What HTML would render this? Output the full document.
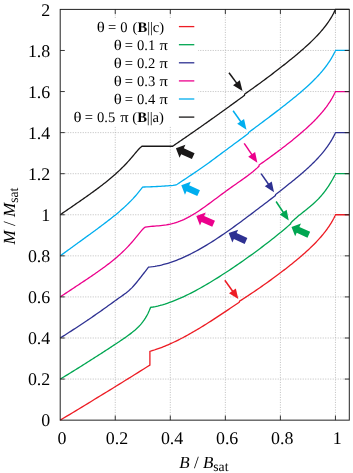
<!DOCTYPE html>
<html><head><meta charset="utf-8"><style>html,body{margin:0;padding:0;background:#fff;}svg{display:block;will-change:transform;}text{text-rendering:geometricPrecision;}</style></head><body>
<svg width="353" height="473" viewBox="0 0 353 473">
<rect width="353" height="473" fill="#fff"/>
<path d="M115.25,9.40V420.15 M170.30,9.40V420.15 M225.35,9.40V420.15 M280.40,9.40V420.15 M335.45,9.40V420.15 M60.20,379.07H349.30 M60.20,338.00H349.30 M60.20,296.92H349.30 M60.20,255.85H349.30 M60.20,214.77H349.30 M60.20,173.70H349.30 M60.20,132.62H349.30 M60.20,91.55H349.30 M60.20,50.47H349.30" stroke="#b0b0b0" stroke-width="0.75" stroke-dasharray="1.1,1.4" fill="none"/>
<rect x="61" y="18" width="137" height="108.4" fill="#fff"/>
<path d="M60.20,420.15 L63.29,418.29 L66.39,416.43 L69.48,414.57 L72.57,412.70 L75.67,410.83 L78.76,408.96 L81.85,407.09 L84.94,405.21 L88.04,403.33 L91.13,401.45 L94.22,399.56 L97.32,397.67 L100.41,395.78 L103.50,393.88 L106.60,391.98 L109.69,390.08 L112.78,388.18 L115.88,386.27 L118.97,384.36 L122.06,382.45 L125.16,380.53 L128.25,378.61 L131.34,376.69 L134.43,374.77 L137.53,372.84 L140.62,370.91 L143.71,368.98 L146.81,367.04 L149.90,365.10 L149.90,351.40 L151.42,350.95 L152.93,350.49 L154.45,350.00 L155.96,349.49 L157.48,348.97 L158.99,348.42 L160.51,347.86 L162.03,347.28 L163.54,346.68 L165.06,346.06 L166.57,345.43 L168.09,344.78 L169.60,344.12 L171.12,343.43 L172.64,342.74 L174.15,342.03 L175.67,341.30 L177.18,340.56 L178.70,339.80 L180.22,339.03 L181.73,338.25 L183.25,337.46 L184.76,336.65 L186.28,335.83 L187.79,334.99 L189.31,334.15 L190.83,333.30 L192.34,332.43 L193.86,331.55 L195.37,330.67 L196.89,329.77 L198.40,328.87 L199.92,327.95 L201.44,327.03 L202.95,326.10 L204.47,325.16 L205.98,324.21 L207.50,323.26 L209.01,322.30 L210.53,321.33 L212.05,320.36 L213.56,319.38 L215.08,318.39 L216.59,317.40 L218.11,316.41 L219.63,315.41 L221.14,314.41 L222.66,313.40 L224.17,312.39 L225.69,311.38 L227.20,310.36 L228.72,309.35 L230.24,308.33 L231.75,307.31 L233.27,306.29 L234.78,305.27 L236.30,304.24 L237.81,303.22 L239.33,302.20 L239.50,301.20 L241.64,299.84 L243.76,298.48 L245.86,297.12 L247.93,295.77 L249.98,294.41 L252.00,293.06 L254.00,291.71 L255.97,290.37 L257.92,289.03 L259.85,287.70 L261.75,286.37 L263.63,285.05 L265.48,283.74 L267.31,282.44 L269.12,281.14 L270.90,279.85 L272.65,278.57 L274.39,277.30 L276.09,276.04 L277.78,274.79 L279.44,273.54 L281.07,272.31 L282.68,271.08 L284.27,269.86 L285.83,268.66 L287.37,267.46 L288.89,266.27 L290.38,265.09 L291.84,263.92 L293.28,262.76 L294.70,261.60 L296.09,260.46 L297.46,259.32 L298.81,258.19 L300.13,257.07 L301.42,255.96 L302.70,254.86 L303.94,253.76 L305.17,252.67 L306.37,251.59 L307.54,250.51 L308.69,249.45 L309.82,248.39 L310.92,247.34 L312.00,246.29 L313.05,245.25 L314.08,244.22 L315.09,243.20 L316.07,242.18 L317.03,241.17 L317.96,240.17 L318.87,239.18 L319.75,238.19 L320.61,237.22 L321.45,236.25 L322.26,235.29 L323.05,234.34 L323.81,233.40 L324.55,232.47 L325.26,231.55 L325.95,230.64 L326.62,229.75 L327.26,228.86 L327.88,227.99 L328.47,227.14 L329.04,226.30 L329.59,225.48 L330.11,224.68 L330.60,223.89 L331.08,223.13 L331.53,222.38 L331.95,221.66 L332.35,220.97 L332.72,220.30 L333.08,219.66 L333.40,219.04 L333.71,218.46 L333.98,217.92 L334.24,217.40 L334.47,216.93 L334.67,216.50 L334.86,216.10 L335.01,215.76 L335.15,215.46 L335.26,215.21 L335.34,215.01 L335.40,214.87 L335.44,214.79 L335.45,214.77 L349.30,214.77" stroke="#ed1c24" stroke-width="1.3" fill="none" stroke-linejoin="miter" stroke-linecap="butt"/>
<path d="M60.20,379.07 L61.51,378.30 L62.82,377.51 L64.13,376.72 L65.44,375.93 L66.75,375.13 L68.06,374.33 L69.37,373.53 L70.68,372.72 L71.99,371.92 L73.30,371.11 L74.61,370.30 L75.92,369.48 L77.23,368.67 L78.54,367.85 L79.85,367.03 L81.16,366.21 L82.47,365.38 L83.78,364.56 L85.09,363.73 L86.40,362.90 L87.71,362.07 L89.02,361.24 L90.33,360.41 L91.64,359.57 L92.95,358.74 L94.26,357.90 L95.57,357.06 L96.88,356.22 L98.19,355.38 L99.50,354.53 L100.81,353.69 L102.12,352.84 L103.43,351.99 L104.74,351.14 L106.06,350.29 L107.37,349.44 L108.68,348.59 L109.99,347.73 L111.30,346.87 L112.61,346.01 L113.92,345.15 L115.23,344.29 L116.54,343.42 L117.85,342.55 L119.16,341.68 L120.47,340.80 L121.78,339.91 L123.09,339.02 L124.40,338.11 L125.71,337.20 L127.02,336.27 L128.33,335.33 L129.64,334.36 L130.95,333.37 L132.26,332.36 L133.57,331.30 L134.88,330.20 L136.19,329.04 L137.50,327.82 L138.81,326.52 L140.12,325.13 L141.43,323.62 L142.74,321.97 L144.05,320.16 L145.36,318.16 L146.67,315.93 L147.98,313.43 L149.29,310.60 L150.60,307.40 L152.97,307.01 L155.35,306.54 L157.72,306.01 L160.10,305.42 L162.47,304.77 L164.85,304.06 L167.22,303.29 L169.60,302.47 L171.97,301.60 L174.35,300.68 L176.72,299.72 L179.09,298.71 L181.47,297.66 L183.84,296.57 L186.22,295.44 L188.59,294.28 L190.97,293.08 L193.34,291.85 L195.72,290.59 L198.09,289.30 L200.47,287.98 L202.84,286.63 L205.22,285.27 L207.59,283.87 L209.96,282.46 L212.34,281.02 L214.71,279.56 L217.09,278.08 L219.46,276.58 L221.84,275.07 L224.21,273.54 L226.59,271.99 L228.96,270.42 L231.34,268.84 L233.71,267.24 L236.08,265.63 L238.46,264.00 L240.83,262.36 L243.21,260.70 L245.58,259.03 L247.96,257.34 L250.33,255.64 L252.71,253.92 L255.08,252.18 L257.46,250.43 L259.83,248.67 L262.21,246.88 L264.58,245.08 L266.95,243.26 L269.33,241.42 L271.70,239.56 L274.08,237.67 L276.45,235.77 L278.83,233.84 L281.20,231.89 L283.58,229.91 L285.95,227.90 L288.33,225.87 L290.70,223.80 L290.90,222.70 L291.90,221.73 L292.88,220.80 L293.85,219.91 L294.81,219.04 L295.77,218.21 L296.70,217.40 L297.63,216.61 L298.55,215.85 L299.45,215.11 L300.35,214.38 L301.23,213.67 L302.10,212.97 L302.96,212.29 L303.81,211.62 L304.65,210.95 L305.48,210.30 L306.29,209.65 L307.10,209.00 L307.89,208.36 L308.67,207.73 L309.44,207.09 L310.20,206.46 L310.95,205.83 L311.69,205.20 L312.41,204.57 L313.13,203.94 L313.83,203.31 L314.52,202.67 L315.20,202.04 L315.87,201.40 L316.53,200.76 L317.18,200.12 L317.81,199.48 L318.44,198.84 L319.05,198.19 L319.65,197.54 L320.24,196.89 L320.82,196.24 L321.39,195.59 L321.95,194.94 L322.49,194.28 L323.03,193.63 L323.55,192.98 L324.06,192.33 L324.56,191.68 L325.05,191.03 L325.53,190.39 L326.00,189.75 L326.45,189.11 L326.90,188.48 L327.33,187.86 L327.75,187.24 L328.16,186.62 L328.56,186.02 L328.95,185.42 L329.33,184.83 L329.69,184.25 L330.05,183.68 L330.39,183.12 L330.72,182.57 L331.04,182.03 L331.35,181.51 L331.65,181.00 L331.93,180.50 L332.21,180.02 L332.47,179.55 L332.73,179.10 L332.97,178.66 L333.20,178.24 L333.42,177.84 L333.63,177.45 L333.82,177.09 L334.01,176.74 L334.18,176.41 L334.35,176.10 L334.50,175.80 L334.64,175.53 L334.77,175.27 L334.89,175.04 L334.99,174.82 L335.09,174.62 L335.17,174.44 L335.25,174.29 L335.31,174.14 L335.36,174.02 L335.40,173.92 L335.43,173.83 L335.44,173.76 L335.45,173.70 L349.30,173.70" stroke="#00a651" stroke-width="1.3" fill="none" stroke-linejoin="miter" stroke-linecap="butt"/>
<path d="M60.20,338.00 L61.70,337.06 L63.19,336.12 L64.69,335.18 L66.19,334.23 L67.68,333.28 L69.18,332.32 L70.68,331.36 L72.17,330.39 L73.67,329.42 L75.17,328.44 L76.66,327.46 L78.16,326.48 L79.66,325.49 L81.15,324.50 L82.65,323.50 L84.15,322.50 L85.64,321.49 L87.14,320.48 L88.00,319.90 L88.64,319.47 L90.13,318.45 L91.63,317.43 L93.13,316.40 L94.62,315.36 L96.12,314.32 L97.62,313.28 L99.11,312.23 L100.61,311.17 L102.11,310.12 L103.60,309.05 L105.10,307.99 L106.59,306.92 L108.09,305.84 L109.59,304.77 L111.08,303.69 L112.58,302.60 L114.08,301.51 L115.40,300.55 L115.57,300.42 L117.07,299.35 L118.57,298.30 L120.06,297.25 L121.56,296.21 L123.06,295.14 L124.55,294.05 L126.05,292.91 L127.55,291.71 L129.04,290.45 L130.00,289.60 L130.54,289.10 L132.04,287.59 L133.53,285.95 L135.03,284.24 L135.50,283.70 L136.53,282.49 L138.02,280.66 L139.52,278.77 L141.02,276.86 L141.30,276.50 L142.51,274.94 L144.01,272.99 L144.70,272.10 L145.51,271.06 L147.00,269.13 L148.50,267.20 L150.65,266.97 L152.80,266.69 L154.95,266.35 L157.10,265.96 L159.25,265.52 L161.41,265.03 L163.56,264.49 L165.71,263.90 L167.86,263.26 L170.01,262.58 L172.16,261.86 L174.31,261.09 L176.46,260.28 L178.61,259.42 L180.76,258.53 L182.91,257.60 L185.06,256.63 L187.22,255.62 L189.37,254.58 L191.52,253.50 L193.67,252.40 L195.82,251.25 L197.97,250.08 L200.12,248.88 L202.27,247.64 L204.42,246.38 L206.57,245.10 L208.72,243.78 L210.87,242.44 L213.03,241.08 L215.18,239.69 L217.33,238.29 L219.48,236.86 L221.63,235.41 L223.78,233.94 L225.93,232.46 L228.08,230.96 L230.23,229.44 L232.38,227.91 L234.53,226.36 L236.68,224.80 L238.84,223.23 L240.99,221.65 L243.14,220.06 L245.29,218.46 L247.44,216.85 L249.59,215.23 L251.74,213.61 L253.89,211.98 L256.04,210.35 L258.19,208.71 L260.34,207.07 L262.49,205.43 L264.65,203.79 L266.80,202.15 L268.95,200.51 L271.10,198.87 L273.25,197.23 L275.40,195.60 L275.60,194.50 L276.94,193.46 L278.26,192.43 L279.57,191.41 L280.86,190.40 L282.14,189.41 L283.40,188.42 L284.64,187.44 L285.88,186.47 L287.09,185.51 L288.29,184.55 L289.48,183.61 L290.65,182.67 L291.81,181.74 L292.95,180.82 L294.07,179.90 L295.18,178.99 L296.28,178.09 L297.36,177.20 L298.43,176.31 L299.48,175.42 L300.51,174.54 L301.53,173.67 L302.54,172.80 L303.53,171.94 L304.50,171.08 L305.46,170.23 L306.41,169.38 L307.33,168.54 L308.25,167.70 L309.15,166.86 L310.03,166.03 L310.90,165.21 L311.75,164.38 L312.59,163.56 L313.42,162.75 L314.23,161.94 L315.02,161.13 L315.80,160.33 L316.56,159.53 L317.31,158.74 L318.04,157.95 L318.76,157.17 L319.46,156.39 L320.15,155.61 L320.82,154.84 L321.48,154.08 L322.12,153.32 L322.75,152.56 L323.36,151.81 L323.96,151.07 L324.54,150.34 L325.11,149.61 L325.66,148.89 L326.19,148.17 L326.72,147.46 L327.22,146.77 L327.71,146.08 L328.19,145.39 L328.65,144.72 L329.10,144.06 L329.53,143.41 L329.94,142.77 L330.34,142.15 L330.73,141.53 L331.10,140.93 L331.45,140.34 L331.79,139.77 L332.12,139.21 L332.43,138.67 L332.72,138.14 L333.00,137.63 L333.27,137.14 L333.52,136.67 L333.75,136.22 L333.97,135.79 L334.17,135.39 L334.36,135.00 L334.54,134.65 L334.69,134.31 L334.84,134.00 L334.97,133.72 L335.08,133.47 L335.18,133.25 L335.26,133.06 L335.33,132.90 L335.38,132.78 L335.42,132.69 L335.44,132.64 L335.45,132.62 L349.30,132.62" stroke="#2e3192" stroke-width="1.3" fill="none" stroke-linejoin="miter" stroke-linecap="butt"/>
<path d="M60.20,296.92 L61.43,296.11 L62.66,295.29 L63.90,294.48 L65.13,293.66 L66.36,292.85 L67.59,292.03 L68.82,291.22 L70.06,290.40 L71.29,289.59 L72.52,288.77 L73.75,287.96 L74.98,287.14 L76.21,286.32 L77.45,285.51 L78.68,284.69 L79.91,283.87 L81.14,283.05 L82.37,282.23 L83.61,281.41 L84.84,280.59 L86.07,279.76 L87.30,278.94 L88.53,278.11 L89.77,277.27 L91.00,276.44 L92.23,275.60 L93.46,274.76 L94.69,273.91 L95.92,273.06 L97.16,272.20 L98.39,271.34 L99.62,270.47 L100.85,269.59 L102.08,268.71 L103.32,267.81 L104.55,266.91 L105.78,266.00 L107.01,265.08 L108.24,264.14 L109.48,263.19 L110.71,262.23 L111.94,261.25 L113.17,260.26 L114.40,259.24 L115.63,258.21 L116.87,257.16 L118.10,256.09 L119.33,255.00 L120.56,253.88 L121.79,252.74 L123.03,251.57 L124.26,250.37 L125.49,249.15 L126.72,247.89 L127.95,246.59 L129.19,245.27 L130.42,243.91 L131.65,242.51 L132.88,241.08 L134.11,239.62 L135.34,238.13 L136.58,236.61 L137.81,235.08 L139.04,233.55 L140.27,232.05 L141.50,230.60 L142.74,229.26 L143.97,228.09 L145.20,227.20 L147.13,226.88 L149.05,226.63 L150.98,226.42 L152.91,226.25 L154.84,226.09 L156.76,225.94 L158.69,225.78 L160.62,225.60 L162.54,225.39 L164.47,225.14 L166.40,224.85 L168.33,224.50 L170.25,224.11 L172.18,223.65 L174.11,223.13 L176.03,222.54 L177.96,221.90 L179.89,221.18 L181.82,220.40 L183.74,219.55 L185.67,218.64 L187.60,217.67 L189.52,216.64 L191.45,215.55 L193.38,214.41 L195.31,213.22 L197.23,211.99 L199.16,210.71 L201.09,209.41 L203.01,208.06 L204.94,206.70 L206.87,205.30 L208.79,203.90 L210.72,202.47 L212.65,201.04 L214.58,199.60 L216.50,198.16 L218.43,196.73 L220.36,195.29 L222.28,193.87 L224.21,192.45 L226.14,191.04 L228.07,189.65 L229.99,188.27 L231.92,186.89 L233.85,185.53 L235.77,184.17 L237.70,182.82 L239.63,181.47 L241.56,180.12 L243.48,178.75 L245.41,177.37 L247.34,175.96 L249.26,174.51 L251.19,173.01 L253.12,171.46 L255.05,169.83 L256.97,168.12 L258.90,166.30 L259.10,165.20 L259.10,165.00 L260.81,163.81 L262.49,162.62 L264.16,161.44 L265.81,160.27 L267.44,159.10 L269.05,157.94 L270.64,156.78 L272.21,155.64 L273.76,154.50 L275.29,153.37 L276.81,152.25 L278.30,151.13 L279.78,150.02 L281.23,148.92 L282.67,147.83 L284.08,146.74 L285.48,145.67 L286.86,144.60 L288.22,143.53 L289.56,142.48 L290.88,141.43 L292.18,140.39 L293.46,139.36 L294.73,138.33 L295.97,137.31 L297.19,136.30 L298.40,135.29 L299.58,134.29 L300.75,133.30 L301.90,132.31 L303.02,131.33 L304.13,130.35 L305.22,129.38 L306.29,128.42 L307.34,127.46 L308.37,126.51 L309.39,125.57 L310.38,124.63 L311.35,123.69 L312.31,122.76 L313.24,121.84 L314.16,120.92 L315.05,120.01 L315.93,119.10 L316.79,118.20 L317.63,117.31 L318.45,116.42 L319.25,115.54 L320.03,114.66 L320.79,113.79 L321.53,112.93 L322.25,112.08 L322.96,111.23 L323.64,110.39 L324.31,109.55 L324.95,108.73 L325.58,107.91 L326.19,107.11 L326.77,106.31 L327.34,105.53 L327.89,104.75 L328.42,103.99 L328.93,103.24 L329.43,102.50 L329.90,101.78 L330.35,101.07 L330.78,100.38 L331.20,99.70 L331.59,99.04 L331.97,98.40 L332.33,97.78 L332.66,97.18 L332.98,96.60 L333.28,96.04 L333.56,95.51 L333.82,95.01 L334.06,94.53 L334.28,94.08 L334.49,93.66 L334.67,93.28 L334.83,92.92 L334.98,92.61 L335.10,92.33 L335.21,92.09 L335.30,91.89 L335.36,91.73 L335.41,91.62 L335.44,91.56 L335.45,91.55 L349.30,91.55" stroke="#ec008c" stroke-width="1.3" fill="none" stroke-linejoin="miter" stroke-linecap="butt"/>
<path d="M60.20,255.85 L61.39,254.98 L62.59,254.12 L63.78,253.25 L64.98,252.38 L66.17,251.52 L67.37,250.65 L68.56,249.78 L69.75,248.92 L70.95,248.05 L72.14,247.18 L73.34,246.32 L74.53,245.45 L75.72,244.58 L76.92,243.72 L78.11,242.85 L79.31,241.98 L80.50,241.12 L81.70,240.25 L82.89,239.38 L84.08,238.51 L85.28,237.64 L86.47,236.77 L87.67,235.90 L88.86,235.03 L90.06,234.16 L91.25,233.29 L92.44,232.41 L93.64,231.54 L94.83,230.66 L96.03,229.78 L97.22,228.90 L98.41,228.01 L99.61,227.13 L100.80,226.24 L102.00,225.34 L103.19,224.45 L104.39,223.54 L105.58,222.64 L106.77,221.72 L107.97,220.80 L109.16,219.88 L110.36,218.95 L111.55,218.01 L112.74,217.06 L113.94,216.10 L115.13,215.13 L116.33,214.15 L117.52,213.16 L118.72,212.15 L119.91,211.13 L121.10,210.09 L122.30,209.04 L123.49,207.97 L124.69,206.88 L125.88,205.77 L127.08,204.64 L128.27,203.48 L129.46,202.30 L130.66,201.09 L131.85,199.85 L133.05,198.59 L134.24,197.28 L135.43,195.95 L136.63,194.57 L137.82,193.16 L139.02,191.70 L140.21,190.20 L141.41,188.66 L142.60,187.06 L144.39,187.01 L146.19,186.96 L147.98,186.89 L149.77,186.83 L151.57,186.75 L153.36,186.67 L155.00,186.60 L155.15,186.59 L156.95,186.50 L158.74,186.40 L160.53,186.29 L162.33,186.18 L164.12,186.06 L165.00,186.00 L165.91,185.94 L167.71,185.82 L169.50,185.69 L170.50,185.60 L171.29,185.53 L173.08,185.34 L174.88,185.07 L175.00,185.05 L176.67,184.53 L177.20,184.30 L178.46,183.48 L179.00,183.10 L180.26,182.26 L182.05,181.07 L183.84,179.89 L185.64,178.69 L186.00,178.45 L187.43,177.49 L189.22,176.29 L191.02,175.09 L192.81,173.88 L194.60,172.67 L195.00,172.40 L196.40,171.45 L198.19,170.23 L199.98,169.00 L201.78,167.76 L203.57,166.51 L205.00,165.50 L205.36,165.24 L207.16,163.96 L208.95,162.66 L210.74,161.36 L212.54,160.04 L214.33,158.72 L216.12,157.39 L217.92,156.06 L219.71,154.72 L221.50,153.39 L223.29,152.06 L225.09,150.73 L225.40,150.50 L226.88,149.41 L228.67,148.08 L230.47,146.75 L232.26,145.43 L234.05,144.10 L235.85,142.77 L237.64,141.44 L239.43,140.11 L241.23,138.79 L243.02,137.46 L244.81,136.14 L245.00,136.00 L246.61,134.82 L248.40,133.50 L248.60,132.50 L250.54,131.06 L252.46,129.63 L254.36,128.21 L256.23,126.81 L258.08,125.43 L259.92,124.06 L261.72,122.70 L263.51,121.36 L265.28,120.03 L267.02,118.72 L268.74,117.42 L270.44,116.14 L272.12,114.86 L273.77,113.61 L275.41,112.36 L277.02,111.13 L278.61,109.91 L280.18,108.71 L281.72,107.51 L283.25,106.33 L284.75,105.16 L286.23,104.00 L287.69,102.85 L289.12,101.71 L290.54,100.59 L291.93,99.47 L293.30,98.36 L294.65,97.26 L295.98,96.18 L297.28,95.10 L298.57,94.02 L299.83,92.96 L301.07,91.90 L302.28,90.86 L303.48,89.82 L304.65,88.78 L305.80,87.76 L306.93,86.74 L308.04,85.73 L309.12,84.72 L310.19,83.72 L311.23,82.73 L312.25,81.74 L313.25,80.76 L314.22,79.78 L315.18,78.82 L316.11,77.85 L317.02,76.90 L317.91,75.95 L318.77,75.00 L319.62,74.07 L320.44,73.14 L321.24,72.22 L322.02,71.30 L322.78,70.39 L323.51,69.50 L324.22,68.61 L324.91,67.73 L325.58,66.86 L326.23,65.99 L326.85,65.15 L327.46,64.31 L328.04,63.48 L328.60,62.67 L329.13,61.87 L329.65,61.09 L330.14,60.32 L330.61,59.58 L331.06,58.84 L331.49,58.13 L331.90,57.44 L332.28,56.77 L332.64,56.13 L332.98,55.51 L333.30,54.92 L333.60,54.35 L333.87,53.82 L334.12,53.32 L334.35,52.85 L334.56,52.41 L334.75,52.02 L334.91,51.66 L335.06,51.35 L335.18,51.08 L335.27,50.85 L335.35,50.68 L335.41,50.55 L335.44,50.49 L335.45,50.47 L349.30,50.47" stroke="#00aeef" stroke-width="1.3" fill="none" stroke-linejoin="miter" stroke-linecap="butt"/>
<path d="M60.20,214.77 L61.39,213.96 L62.57,213.14 L63.76,212.32 L64.94,211.51 L66.13,210.69 L67.31,209.87 L68.50,209.06 L69.68,208.24 L70.87,207.42 L72.06,206.60 L73.24,205.78 L74.43,204.96 L75.61,204.14 L76.80,203.32 L77.98,202.50 L79.17,201.68 L80.35,200.85 L81.54,200.03 L82.72,199.20 L83.91,198.37 L85.10,197.54 L86.28,196.70 L87.47,195.86 L88.65,195.02 L89.84,194.18 L91.02,193.33 L92.21,192.47 L93.39,191.61 L94.58,190.75 L95.77,189.88 L96.95,189.00 L98.14,188.12 L99.32,187.23 L100.51,186.33 L101.69,185.43 L102.88,184.51 L104.06,183.59 L105.25,182.65 L106.43,181.71 L107.62,180.75 L108.81,179.78 L109.99,178.79 L111.18,177.80 L112.36,176.79 L113.55,175.76 L114.73,174.71 L115.92,173.65 L117.10,172.58 L118.29,171.48 L119.48,170.36 L120.66,169.22 L121.85,168.06 L123.03,166.88 L124.22,165.67 L125.40,164.44 L126.59,163.18 L127.77,161.90 L128.96,160.59 L130.14,159.26 L131.33,157.90 L132.52,156.51 L133.70,155.11 L134.89,153.69 L136.07,152.28 L137.26,150.88 L138.44,149.52 L139.63,148.25 L140.81,147.14 L142.00,146.27 L172.56,146.27 L173.78,145.44 L175.00,144.62 L176.22,143.79 L177.44,142.96 L178.66,142.12 L179.88,141.29 L181.10,140.46 L182.31,139.62 L183.53,138.78 L184.75,137.94 L185.97,137.10 L187.19,136.26 L188.41,135.42 L189.63,134.57 L190.85,133.72 L192.07,132.88 L193.29,132.03 L194.51,131.18 L195.73,130.33 L196.95,129.47 L198.17,128.62 L199.39,127.76 L200.60,126.91 L201.82,126.05 L203.04,125.19 L204.26,124.33 L205.48,123.47 L206.70,122.61 L207.92,121.75 L209.14,120.88 L210.36,120.02 L211.58,119.15 L212.80,118.28 L214.02,117.41 L215.24,116.54 L216.46,115.67 L217.67,114.80 L218.89,113.93 L220.11,113.05 L221.33,112.18 L222.55,111.30 L223.77,110.43 L224.99,109.55 L226.21,108.67 L227.43,107.79 L228.65,106.91 L229.87,106.03 L231.09,105.15 L232.31,104.27 L233.53,103.38 L234.75,102.50 L235.96,101.61 L237.18,100.73 L238.40,99.84 L239.62,98.96 L240.84,98.07 L242.06,97.18 L243.28,96.29 L244.50,95.40 L244.70,94.00 L246.73,92.60 L248.73,91.20 L250.71,89.80 L252.67,88.41 L254.61,87.02 L256.52,85.64 L258.41,84.27 L260.28,82.91 L262.13,81.55 L263.95,80.21 L265.75,78.87 L267.52,77.54 L269.28,76.23 L271.01,74.92 L272.71,73.62 L274.40,72.34 L276.06,71.07 L277.70,69.80 L279.31,68.55 L280.90,67.31 L282.47,66.09 L284.02,64.87 L285.54,63.66 L287.04,62.47 L288.52,61.28 L289.98,60.11 L291.41,58.95 L292.82,57.80 L294.21,56.66 L295.57,55.53 L296.91,54.41 L298.23,53.30 L299.52,52.19 L300.79,51.10 L302.04,50.02 L303.27,48.94 L304.47,47.88 L305.65,46.82 L306.81,45.77 L307.94,44.73 L309.05,43.70 L310.14,42.67 L311.21,41.65 L312.25,40.64 L313.27,39.64 L314.27,38.64 L315.24,37.65 L316.19,36.67 L317.12,35.70 L318.02,34.73 L318.91,33.77 L319.77,32.82 L320.60,31.87 L321.42,30.93 L322.21,30.00 L322.97,29.08 L323.72,28.17 L324.44,27.26 L325.14,26.37 L325.81,25.49 L326.47,24.61 L327.10,23.75 L327.71,22.90 L328.29,22.07 L328.85,21.24 L329.39,20.44 L329.90,19.64 L330.40,18.87 L330.87,18.11 L331.31,17.37 L331.74,16.66 L332.14,15.96 L332.52,15.29 L332.87,14.64 L333.20,14.02 L333.51,13.43 L333.80,12.87 L334.06,12.35 L334.30,11.85 L334.52,11.40 L334.72,10.98 L334.89,10.61 L335.04,10.28 L335.16,10.00 L335.27,9.77 L335.35,9.59 L335.40,9.47 L335.44,9.40 L335.45,9.40 L349.30,9.40" stroke="#1a1818" stroke-width="1.3" fill="none" stroke-linejoin="miter" stroke-linecap="butt"/>
<path d="M115.25,420.15v-4.6 M115.25,9.40v4.6 M170.30,420.15v-4.6 M170.30,9.40v4.6 M225.35,420.15v-4.6 M225.35,9.40v4.6 M280.40,420.15v-4.6 M280.40,9.40v4.6 M335.45,420.15v-4.6 M335.45,9.40v4.6 M60.20,379.07h4.6 M349.30,379.07h-4.6 M60.20,338.00h4.6 M349.30,338.00h-4.6 M60.20,296.92h4.6 M349.30,296.92h-4.6 M60.20,255.85h4.6 M349.30,255.85h-4.6 M60.20,214.77h4.6 M349.30,214.77h-4.6 M60.20,173.70h4.6 M349.30,173.70h-4.6 M60.20,132.62h4.6 M349.30,132.62h-4.6 M60.20,91.55h4.6 M349.30,91.55h-4.6 M60.20,50.47h4.6 M349.30,50.47h-4.6" stroke="#222" stroke-width="0.9" fill="none"/>
<rect x="60.20" y="9.40" width="289.10" height="410.75" fill="none" stroke="#222" stroke-width="1"/>
<g font-family="Liberation Serif, serif" font-size="17.9" fill="#000">
<text x="50.3" y="426.25" text-anchor="end">0</text>
<text x="50.3" y="385.18" text-anchor="end">0.2</text>
<text x="50.3" y="344.10" text-anchor="end">0.4</text>
<text x="50.3" y="303.02" text-anchor="end">0.6</text>
<text x="50.3" y="261.95" text-anchor="end">0.8</text>
<text x="50.3" y="220.87" text-anchor="end">1</text>
<text x="50.3" y="179.80" text-anchor="end">1.2</text>
<text x="50.3" y="138.72" text-anchor="end">1.4</text>
<text x="50.3" y="97.65" text-anchor="end">1.6</text>
<text x="50.3" y="56.57" text-anchor="end">1.8</text>
<text x="50.3" y="15.50" text-anchor="end">2</text>
<text x="62.00" y="443.8" text-anchor="middle">0</text>
<text x="117.05" y="443.8" text-anchor="middle">0.2</text>
<text x="172.10" y="443.8" text-anchor="middle">0.4</text>
<text x="227.15" y="443.8" text-anchor="middle">0.6</text>
<text x="282.20" y="443.8" text-anchor="middle">0.8</text>
<text x="337.25" y="443.8" text-anchor="middle">1</text>
</g>
<g font-family="Liberation Serif, serif" font-size="17.0" fill="#000">
<text x="179.3" y="468.3"><tspan font-style="italic">B</tspan> / <tspan font-style="italic">B</tspan><tspan font-size="13.6" dy="2.4">sat</tspan></text>
<text transform="translate(14.8,244.4) rotate(-90)"><tspan font-style="italic">M</tspan> / <tspan font-style="italic">M</tspan><tspan font-size="13.6" dy="3.2">sat</tspan></text>
</g>
<g font-family="Liberation Serif, serif" font-size="14.6" fill="#000">
<text transform="translate(96.71,31.60) scale(1.15,1)">θ</text>
<text x="108.07" y="31.60">=</text>
<text x="120.34" y="31.60">0</text>
<text x="132.56" y="31.60">(<tspan font-weight="bold">B</tspan>||</text>
<text x="152.84" y="31.60">c)</text>
<path d="M178.9,26.60H194.3" stroke="#ed1c24" stroke-width="1.3"/>
<text transform="translate(113.71,49.70) scale(1.15,1)">θ</text>
<text x="124.67" y="49.70">=</text>
<text x="136.94" y="49.70">0.1</text>
<text transform="translate(159.57,49.70) scale(1.13,1)">π</text>
<path d="M178.9,44.70H194.3" stroke="#00a651" stroke-width="1.3"/>
<text transform="translate(113.71,67.80) scale(1.15,1)">θ</text>
<text x="124.67" y="67.80">=</text>
<text x="136.94" y="67.80">0.2</text>
<text transform="translate(159.57,67.80) scale(1.13,1)">π</text>
<path d="M178.9,62.80H194.3" stroke="#2e3192" stroke-width="1.3"/>
<text transform="translate(113.71,85.90) scale(1.15,1)">θ</text>
<text x="124.67" y="85.90">=</text>
<text x="136.94" y="85.90">0.3</text>
<text transform="translate(159.57,85.90) scale(1.13,1)">π</text>
<path d="M178.9,80.90H194.3" stroke="#ec008c" stroke-width="1.3"/>
<text transform="translate(113.71,104.00) scale(1.15,1)">θ</text>
<text x="124.67" y="104.00">=</text>
<text x="136.94" y="104.00">0.4</text>
<text transform="translate(159.57,104.00) scale(1.13,1)">π</text>
<path d="M178.9,99.00H194.3" stroke="#00aeef" stroke-width="1.3"/>
<text transform="translate(73.41,122.10) scale(1.15,1)">θ</text>
<text x="84.87" y="122.10">=</text>
<text x="96.94" y="122.10">0.5</text>
<text transform="translate(120.17,122.10) scale(1.13,1)">π</text>
<text x="132.26" y="122.10">(<tspan font-weight="bold">B</tspan>||</text>
<text x="152.49" y="122.10">a)</text>
<path d="M178.9,117.10H194.3" stroke="#1a1818" stroke-width="1.3"/>
</g>
<path d="M229.00,72.76L237.06,83.66" stroke="#1a1818" stroke-width="1.5" fill="none"/><path d="M242.48,90.97L233.09,85.35L239.84,80.36Z" fill="#1a1818"/>
<path d="M233.10,110.76L241.21,122.22" stroke="#00aeef" stroke-width="1.5" fill="none"/><path d="M246.46,129.65L237.20,123.83L244.06,118.98Z" fill="#00aeef"/>
<path d="M244.20,143.40L252.22,155.15" stroke="#ec008c" stroke-width="1.5" fill="none"/><path d="M257.35,162.66L248.19,156.69L255.12,151.95Z" fill="#ec008c"/>
<path d="M261.10,173.65L268.85,184.75" stroke="#2e3192" stroke-width="1.5" fill="none"/><path d="M274.06,192.22L264.83,186.34L271.72,181.53Z" fill="#2e3192"/>
<path d="M276.10,201.50L283.71,212.98" stroke="#00a651" stroke-width="1.5" fill="none"/><path d="M288.74,220.57L279.66,214.47L286.66,209.83Z" fill="#00a651"/>
<path d="M224.83,280.30L233.02,291.69" stroke="#ed1c24" stroke-width="1.5" fill="none"/><path d="M238.33,299.08L229.02,293.33L235.84,288.43Z" fill="#ed1c24"/>
<path d="M175.93,148.26 L185.40,144.80 L183.83,148.27 L194.58,153.13 L191.90,159.05 L181.15,154.19 L179.59,157.65Z" fill="#1a1818"/>
<path d="M181.30,185.30 L190.77,181.84 L189.20,185.31 L199.95,190.17 L197.27,196.09 L186.52,191.23 L184.96,194.69Z" fill="#00aeef"/>
<path d="M196.30,216.00 L205.77,212.54 L204.20,216.01 L214.95,220.87 L212.27,226.79 L201.52,221.93 L199.96,225.39Z" fill="#ec008c"/>
<path d="M228.70,233.10 L238.17,229.64 L236.60,233.11 L247.35,237.97 L244.67,243.89 L233.92,239.03 L232.36,242.49Z" fill="#2e3192"/>
<path d="M291.50,226.90 L300.97,223.44 L299.40,226.91 L310.15,231.77 L307.47,237.69 L296.72,232.83 L295.16,236.29Z" fill="#00a651"/>
</svg>
</body></html>
